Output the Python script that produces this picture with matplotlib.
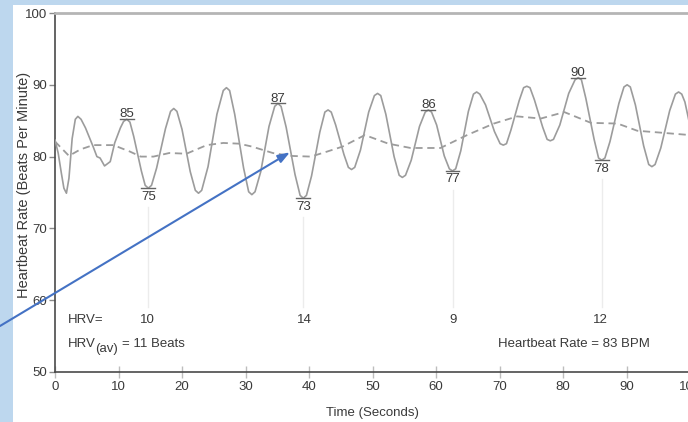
import matplotlib
matplotlib.use("Agg")
import matplotlib.pyplot as plt
from matplotlib.patches import Rectangle

plt.rcParams['font.family'] = ['Liberation Sans', 'DejaVu Sans']

# heart rate trace
time_s = [0.0, 0.5, 1.0, 1.4, 1.8, 2.2, 2.7, 3.2, 3.6, 4.1, 4.8, 6.0, 6.6, 7.1, 7.8, 8.7, 9.4,
          10.3, 10.8, 11.3, 11.8, 12.4, 13.6, 14.2, 14.7, 15.2, 16.0, 17.4, 18.2, 18.7, 19.2,
          20.0, 21.3, 22.1, 22.6, 23.1, 24.1, 25.5, 26.5, 27.0, 27.5, 28.3, 29.7, 30.5, 31.0,
          31.5, 32.4, 33.7, 34.6, 35.1, 35.6, 36.4, 37.8, 38.6, 39.1, 39.6, 40.4, 41.7, 42.5,
          43.0, 43.5, 44.2, 45.5, 46.2, 46.7, 47.2, 48.1, 49.4, 50.3, 50.8, 51.3, 52.1, 53.4,
          54.2, 54.7, 55.2, 56.1, 57.4, 58.3, 58.8, 59.3, 60.1, 61.3, 62.1, 62.6, 63.1, 63.9,
          65.1, 65.9, 66.4, 66.9, 67.8, 69.2, 70.1, 70.6, 71.1, 71.8, 73.1, 73.8, 74.3, 74.8,
          75.5, 76.8, 77.5, 78.0, 78.5, 79.5, 80.9, 81.9, 82.4, 82.9, 83.6, 84.9, 85.6, 86.1,
          86.6, 87.4, 88.8, 89.6, 90.1, 90.6, 91.4, 92.7, 93.5, 94.0, 94.5, 95.4, 96.8, 97.7,
          98.2, 98.7, 99.2, 100.0]
hr_bpm = [82.3, 80.5, 77.7, 75.6, 74.9, 77.0, 82.5, 85.2, 85.6, 85.2, 84.0, 81.4, 80.0, 79.8,
          78.7, 79.3, 81.9, 84.0, 84.9, 85.2, 84.8, 82.8, 78.0, 76.0, 75.6, 76.0, 78.4, 83.9,
          86.3, 86.7, 86.3, 83.8, 77.9, 75.3, 74.9, 75.3, 78.6, 85.9, 89.2, 89.6, 89.2, 85.9,
          78.4, 75.1, 74.7, 75.1, 77.9, 84.2, 87.0, 87.4, 87.0, 84.1, 77.5, 74.6, 74.2, 74.6,
          77.3, 83.4, 86.2, 86.5, 86.2, 84.4, 80.3, 78.5, 78.2, 78.5, 80.9, 86.2, 88.5, 88.8,
          88.5, 85.9, 80.0, 77.4, 77.1, 77.4, 79.5, 84.2, 86.2, 86.5, 86.2, 84.4, 80.1, 78.3,
          78.0, 78.3, 80.8, 86.3, 88.7, 89.0, 88.7, 87.2, 83.5, 81.8, 81.6, 81.8, 83.7, 87.8,
          89.6, 89.8, 89.6, 87.9, 84.1, 82.4, 82.2, 82.4, 84.4, 88.8, 90.7, 91.0, 90.7, 88.1,
          82.4, 79.8, 79.5, 79.8, 82.1, 87.4, 89.7, 90.0, 89.7, 87.2, 81.5, 78.9, 78.6, 78.9,
          81.2, 86.4, 88.7, 89.0, 88.7, 87.6, 84.3]

# running average (dashed)
avg_t = [0, 2.2, 4, 6, 9.2, 11.8, 13.5, 15.5, 18, 20.7, 23.9, 26.5, 29, 31, 34.3, 37,
         40.3, 42.5, 45.3, 48.8, 52.5, 56, 60.7, 64.9, 69.1, 72.8, 76.5, 80.2, 84.4,
         88.6, 91.7, 95.9, 100]
avg_bpm = [82.1, 80.1, 81.0, 81.6, 81.6, 80.7, 80.0, 80.0, 80.5, 80.4, 81.6, 81.9, 81.8,
           81.4, 80.5, 80.1, 80.0, 80.6, 81.4, 83.0, 81.8, 81.2, 81.2, 83.0, 84.6, 85.6,
           85.3, 86.2, 84.7, 84.6, 83.6, 83.3, 83.0]

# labelled peaks / troughs
mark_t = [11.3, 14.7, 35.1, 39.1, 58.8, 62.6, 82.4, 86.1]
mark_bpm = [85.2, 75.6, 87.4, 74.2, 86.5, 78.0, 91.0, 79.5]
mark_lab = ['85', '75', '87', '73', '86', '77', '90', '78']
mark_peak = [True, False, True, False, True, False, True, False]

hrv_t = [14.6, 39.3, 62.7, 85.9]
hrv_lab = ['10', '14', '9', '12']

txt = '#3a3a3a'
line_c = '#9c9c9c'

fig = plt.figure(figsize=(6.88, 4.22), dpi=100, facecolor='#BDD7EE')
fig.add_artist(Rectangle((13 / 688, 0), 1, 417 / 422, transform=fig.transFigure,
                         facecolor='white', edgecolor='none', zorder=0))

ax = fig.add_axes([55 / 688, 50 / 422, 635 / 688, 359 / 422])
ax.set_facecolor('white')

ax.plot(time_s, hr_bpm, color=line_c, lw=1.2, zorder=3)
ax.plot(avg_t, avg_bpm, color=line_c, lw=1.3, dashes=(4, 2.6), zorder=3)

for x, y, lab, pk in zip(mark_t, mark_bpm, mark_lab, mark_peak):
    ax.plot([x - 1.1, x + 1.1], [y, y], color='#666666', lw=1, zorder=4)
    if pk:
        ax.text(x, y + 0.25, lab, ha='center', va='baseline', fontsize=9.5, color=txt)
    else:
        ax.text(x, y - 0.35, lab, ha='center', va='top', fontsize=9.5, color=txt)
        ax.plot([x, x], [59.0, y - 2.6], color='#ececec', lw=1, zorder=2)

ax.text(2.0, 57.2, 'HRV=', ha='left', va='center', fontsize=9.5, color=txt)
for x, lab in zip(hrv_t, hrv_lab):
    ax.text(x, 57.2, lab, ha='center', va='center', fontsize=9.5, color=txt)
ax.text(2.0, 53.9, 'HRV', ha='left', va='center', fontsize=9.5, color=txt)
ax.text(6.3, 53.2, '(av)', ha='left', va='center', fontsize=9.5, color=txt)
ax.text(10.5, 53.9, '= 11 Beats', ha='left', va='center', fontsize=9.5, color=txt)
ax.text(69.8, 53.9, 'Heartbeat Rate = 83 BPM', ha='left', va='center', fontsize=9.5, color=txt)

ax.set_xlim(0, 100)
ax.set_ylim(50, 100)
ax.set_xticks(range(0, 101, 10))
ax.set_yticks(range(50, 101, 10))

ax.spines['right'].set_visible(False)
ax.spines['top'].set_color('#b5b5b5')
ax.spines['top'].set_linewidth(2)
ax.spines['left'].set_color('#4a4a4a')
ax.spines['bottom'].set_color('#4a4a4a')
ax.spines['left'].set_linewidth(1.2)
ax.spines['bottom'].set_linewidth(1.2)

ax.tick_params(axis='y', direction='out', length=4, width=1, color='#8a8a8a',
               labelsize=9.5, labelcolor=txt, pad=1.5)
ax.tick_params(axis='x', direction='inout', length=9, width=1, color='#bdbdbd',
               labelsize=9.5, labelcolor=txt, pad=2)

ax.set_xlabel('Time (Seconds)', fontsize=9.5, color=txt, labelpad=10)
ax.set_ylabel('Heartbeat Rate (Beats Per Minute)', fontsize=10.5, color=txt)
ax.yaxis.set_label_coords(-0.038, 0.52)

ax.annotate('', xy=(37.0, 80.6), xycoords='data',
            xytext=(0, 96 / 422), textcoords='figure fraction',
            arrowprops=dict(arrowstyle='-|>,head_length=0.7,head_width=0.25',
                            color='#4472C4', lw=1.5, shrinkA=0, shrinkB=0),
            annotation_clip=False, zorder=6)

fig.savefig('out.png', dpi=100, facecolor=fig.get_facecolor())
